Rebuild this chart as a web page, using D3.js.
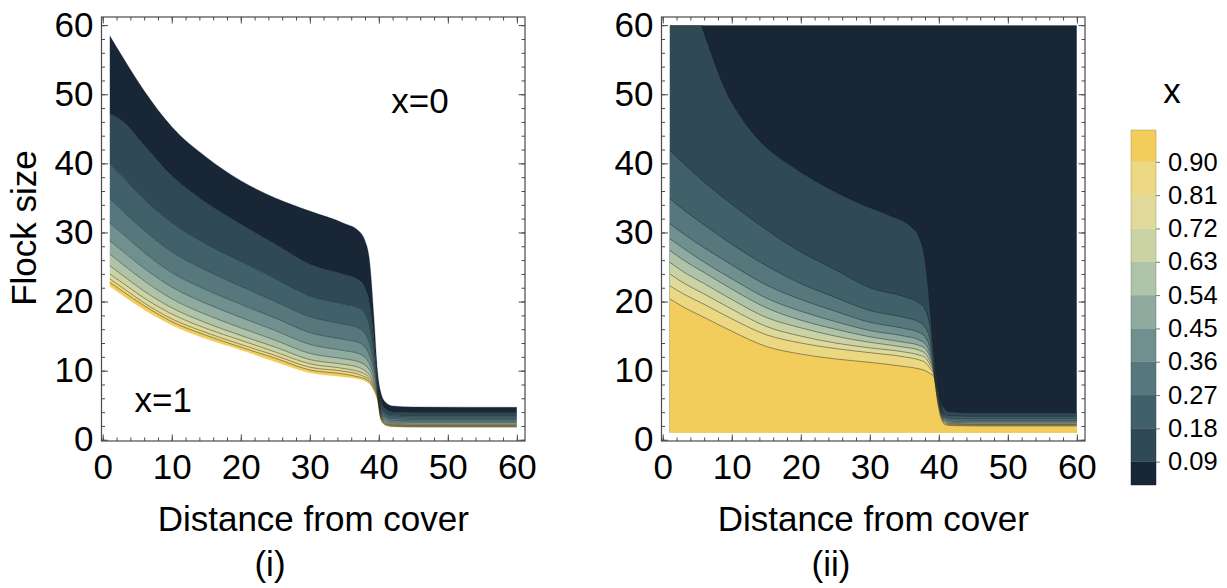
<!DOCTYPE html>
<html>
<head>
<meta charset="utf-8">
<script src="https://cdn.jsdelivr.net/npm/d3@7"></script>
<style>
  body { margin: 0; background: #fff; }
  svg text { font-family: "Liberation Sans", Arial, Helvetica, sans-serif; fill: #000; }
</style>
</head>
<body>
<svg id="chart" width="1227" height="588"></svg>
<script>
// ---- contour levels of x and legend ----
const levels = [0.09, 0.18, 0.27, 0.36, 0.45, 0.54, 0.63, 0.72, 0.81, 0.90];
const levelLabels = ["0.09", "0.18", "0.27", "0.36", "0.45", "0.54", "0.63", "0.72", "0.81", "0.90"];
const legendRange = [0.027, 0.986];
const bandColors = ["#182636", "#2f4a55", "#40616a", "#56787c", "#70908f", "#8faa9f",
                    "#afc3a8", "#cbd3a4", "#e0da9a", "#ecd883", "#f3cd5c"];

// ---- axes ----
const axisTicks = [0, 10, 20, 30, 40, 50, 60];
const minorTicks = d3.range(0, 61, 2);
const domainPad = [-0.18, 61.18];

// ---- panel (i): flock size along each contour, sampled on a distance grid ----
const distance = [1, 3, 6, 10, 15, 20, 25, 30, 35, 37, 38, 38.7, 39.3, 39.8, 40.3, 41, 42, 45, 60];
// upper edge of the mixed region (above it x = 0)
const edgeUpperI = [58.5, 55.2, 50.5, 45.3, 40.9, 37.5, 35.0, 33.1, 31.3, 30.3, 28.8, 25.5, 17.5, 10.0, 6.8, 5.4, 4.9, 4.75, 4.7];
// lower edge of the mixed region (below it x = 1)
const edgeLowerI = [22.2, 20.8, 18.8, 16.6, 14.6, 13.0, 11.3, 9.7, 9.1, 8.8, 8.5, 8.0, 7.0, 5.6, 2.8, 2.05, 1.85, 1.8, 1.8];
const contoursI = [
  [47.2, 46.0, 42.6, 38.2, 34.3, 31.2, 28.3, 25.4, 23.9, 23.2, 22.0, 19.5, 14.5, 8.8, 5.6, 4.4, 4.0, 3.9, 3.9],
  [40.0, 37.9, 34.8, 31.4, 28.3, 25.8, 23.3, 20.8, 19.6, 19.1, 18.2, 16.2, 12.5, 8.2, 5.0, 3.8, 3.5, 3.4, 3.4],
  [34.9, 33.0, 30.3, 27.2, 24.5, 22.2, 20.0, 17.8, 16.7, 16.2, 15.4, 13.8, 11.0, 7.8, 4.6, 3.4, 3.1, 3.0, 3.0],
  [31.4, 29.7, 27.1, 24.2, 21.7, 19.6, 17.6, 15.5, 14.5, 14.1, 13.4, 12.1, 10.0, 7.5, 4.3, 3.1, 2.8, 2.7, 2.7],
  [28.8, 27.2, 24.8, 22.1, 19.7, 17.7, 15.8, 13.8, 12.9, 12.5, 11.9, 10.9, 9.2, 7.2, 4.0, 2.85, 2.55, 2.5, 2.5],
  [26.9, 25.3, 23.0, 20.4, 18.1, 16.2, 14.4, 12.5, 11.7, 11.3, 10.8, 10.0, 8.6, 6.9, 3.8, 2.65, 2.4, 2.3, 2.3],
  [25.2, 23.7, 21.5, 19.1, 16.9, 15.1, 13.4, 11.6, 10.9, 10.5, 10.0, 9.3, 8.2, 6.7, 3.6, 2.5, 2.25, 2.15, 2.15],
  [24.0, 22.6, 20.5, 18.2, 16.1, 14.4, 12.7, 11.0, 10.3, 9.9, 9.5, 8.9, 7.9, 6.5, 3.4, 2.35, 2.15, 2.05, 2.05],
  [23.3, 21.9, 19.8, 17.5, 15.5, 13.8, 12.2, 10.5, 9.9, 9.5, 9.1, 8.6, 7.6, 6.3, 3.2, 2.25, 2.05, 1.97, 1.95],
  [22.8, 21.4, 19.4, 17.1, 15.1, 13.4, 11.8, 10.1, 9.5, 9.1, 8.8, 8.3, 7.3, 6.0, 3.0, 2.15, 1.95, 1.88, 1.87]
];

// ---- panel (ii): contour at x = 0.09 as [distance, flock size] points ----
const contour009II = [[5.6, 60], [7, 56], [9, 50.8], [11, 47.2], [14, 43.3], [19, 39.4], [24, 36.4],
  [29, 34.0], [33, 32.4], [36, 30.8], [37, 29.6], [38, 26.0], [38.6, 20.5], [39.2, 13.5],
  [39.8, 8.6], [40.5, 5.0], [41.5, 4.05], [45, 3.9], [60, 3.9]];
// contours x = 0.18 ... 0.90 on the distance grid
const contoursII = [
  [41.9, 40.0, 37.3, 34.1, 30.4, 27.2, 24.6, 22.0, 20.7, 19.9, 18.9, 16.5, 11.5, 8.0, 5.0, 3.6, 3.45, 3.4, 3.4],
  [34.9, 33.3, 31.1, 28.3, 25.2, 22.6, 20.6, 18.7, 17.7, 17.1, 16.3, 14.6, 10.8, 7.7, 4.7, 3.3, 3.1, 3.05, 3.05],
  [31.3, 29.8, 27.8, 25.3, 22.4, 20.3, 18.6, 17.0, 16.1, 15.6, 14.9, 13.4, 10.4, 7.4, 4.5, 3.1, 2.85, 2.8, 2.8],
  [29.1, 27.7, 25.7, 23.3, 20.5, 18.6, 17.1, 15.8, 15.0, 14.5, 13.9, 12.6, 10.1, 7.1, 4.3, 2.9, 2.65, 2.6, 2.6],
  [27.4, 26.0, 24.2, 21.8, 19.1, 17.3, 16.0, 14.9, 14.1, 13.7, 13.2, 12.0, 9.9, 6.8, 4.1, 2.75, 2.5, 2.45, 2.45],
  [25.7, 24.3, 22.6, 20.3, 17.7, 16.2, 15.0, 14.1, 13.4, 13.0, 12.5, 11.4, 9.7, 6.5, 3.9, 2.6, 2.35, 2.3, 2.3],
  [24.0, 22.7, 21.1, 18.9, 16.4, 15.0, 14.0, 13.3, 12.7, 12.3, 11.9, 10.9, 9.5, 6.2, 3.7, 2.45, 2.25, 2.2, 2.2],
  [22.3, 21.1, 19.6, 17.5, 15.2, 14.0, 13.2, 12.6, 12.0, 11.6, 11.2, 10.4, 9.3, 5.9, 3.5, 2.3, 2.15, 2.1, 2.1],
  [20.4, 19.2, 17.7, 15.7, 13.5, 12.4, 11.7, 11.2, 10.6, 10.3, 10.0, 9.6, 9.1, 5.6, 3.2, 2.15, 2.05, 2.0, 2.0]
];
const dataExtent = [1, 60];

// ---- drawing ----
const svg = d3.select("#chart");
const fontMain = 35;
const frameTop = 17, frameBottom = 441;

function makePanel(left, right, id) {
  const x = d3.scaleLinear().domain(domainPad).range([left, right]);
  const y = d3.scaleLinear().domain(domainPad).range([frameBottom, frameTop]);
  const g = svg.append("g");
  svg.append("defs").append("clipPath").attr("id", id)
    .append("rect")
    .attr("x", x(dataExtent[0])).attr("y", y(dataExtent[1]))
    .attr("width", x(dataExtent[1]) - x(dataExtent[0]))
    .attr("height", y(dataExtent[0]) - y(dataExtent[1]));
  const plot = g.append("g").attr("clip-path", `url(#${id})`);
  return { x, y, g, plot };
}

function drawFrame(p) {
  const { x, y, g } = p;
  const frameColor = "#4a4a4a";
  const styleAxis = sel => {
    sel.select(".domain").remove();
    sel.selectAll(".tick line").attr("stroke", frameColor).attr("stroke-width", 1);
  };
  // minor ticks
  g.append("g").attr("transform", `translate(0,${frameBottom})`)
    .call(d3.axisBottom(x).tickValues(minorTicks).tickSize(-3.5).tickFormat("")).call(styleAxis);
  g.append("g").attr("transform", `translate(0,${frameTop})`)
    .call(d3.axisTop(x).tickValues(minorTicks).tickSize(-3.5).tickFormat("")).call(styleAxis);
  g.append("g").attr("transform", `translate(${x.range()[0]},0)`)
    .call(d3.axisLeft(y).tickValues(minorTicks).tickSize(-3.5).tickFormat("")).call(styleAxis);
  g.append("g").attr("transform", `translate(${x.range()[1]},0)`)
    .call(d3.axisRight(y).tickValues(minorTicks).tickSize(-3.5).tickFormat("")).call(styleAxis);
  // major ticks with labels
  const bx = g.append("g").attr("transform", `translate(0,${frameBottom})`)
    .call(d3.axisBottom(x).tickValues(axisTicks).tickSize(-6.5).tickPadding(13).tickFormat(d3.format("d")));
  bx.call(styleAxis);
  bx.selectAll("text").attr("font-size", fontMain).attr("fill", "#000");
  g.append("g").attr("transform", `translate(0,${frameTop})`)
    .call(d3.axisTop(x).tickValues(axisTicks).tickSize(-6.5).tickFormat("")).call(styleAxis);
  const ly = g.append("g").attr("transform", `translate(${x.range()[0]},0)`)
    .call(d3.axisLeft(y).tickValues(axisTicks).tickSize(-6.5).tickPadding(8).tickFormat(d3.format("d")));
  ly.call(styleAxis);
  ly.selectAll("text").attr("font-size", fontMain).attr("fill", "#000");
  g.append("g").attr("transform", `translate(${x.range()[1]},0)`)
    .call(d3.axisRight(y).tickValues(axisTicks).tickSize(-6.5).tickFormat("")).call(styleAxis);
  g.append("rect")
    .attr("x", x.range()[0]).attr("y", frameTop)
    .attr("width", x.range()[1] - x.range()[0]).attr("height", frameBottom - frameTop)
    .attr("fill", "none").attr("stroke", frameColor).attr("stroke-width", 1.2);
  // axis title
  g.append("text")
    .attr("x", (x.range()[0] + x.range()[1]) / 2).attr("y", 531)
    .attr("text-anchor", "middle").attr("font-size", fontMain)
    .text("Distance from cover");
}

const lineStroke = "rgba(20,25,30,0.55)";

// ---- panel (i) ----
const pI = makePanel(101.5, 525, "clipI");
{
  const { x, y, plot } = pI;
  const curves = [edgeUpperI, ...contoursI, edgeLowerI];
  const band = d3.area()
    .x(i => x(distance[i]))
    .curve(d3.curveMonotoneX);
  for (let k = 0; k < curves.length - 1; k++) {
    const upper = curves[k], lower = curves[k + 1];
    plot.append("path")
      .datum(d3.range(distance.length))
      .attr("d", band.y0(i => y(lower[i])).y1(i => y(upper[i])))
      .attr("fill", bandColors[k])
      .attr("stroke", bandColors[k]).attr("stroke-width", 0.3);
  }
  const line = d3.line().x(i => x(distance[i])).curve(d3.curveMonotoneX);
  contoursI.forEach(c => {
    plot.append("path")
      .datum(d3.range(distance.length))
      .attr("d", line.y(i => y(c[i])))
      .attr("fill", "none").attr("stroke", lineStroke).attr("stroke-width", 0.8);
  });
  pI.g.append("text").attr("x", x(41.8)).attr("y", y(47.3))
    .attr("font-size", fontMain).text("x=0");
  pI.g.append("text").attr("x", x(4.6)).attr("y", y(4.06))
    .attr("font-size", fontMain).text("x=1");
}
drawFrame(pI);

// ---- panel (ii) ----
const pII = makePanel(661.5, 1085, "clipII");
{
  const { x, y, plot } = pII;
  plot.append("rect")
    .attr("x", x(dataExtent[0])).attr("y", y(dataExtent[1]))
    .attr("width", x(dataExtent[1]) - x(dataExtent[0]))
    .attr("height", y(dataExtent[0]) - y(dataExtent[1]))
    .attr("fill", bandColors[0]);
  const pts = [contour009II, ...contoursII.map(c => c.map((v, i) => [distance[i], v]))];
  const line = d3.line().x(d => x(d[0])).y(d => y(d[1])).curve(d3.curveMonotoneX);
  const lo = dataExtent[0], hi = dataExtent[1];
  pts.forEach((c, k) => {
    const below = line(c) +
      `L${x(hi)},${y(c[c.length - 1][1])}L${x(hi)},${y(lo)}L${x(lo)},${y(lo)}L${x(lo)},${y(c[0][1])}Z`;
    plot.append("path").attr("d", below)
      .attr("fill", bandColors[k + 1]);
  });
  pts.forEach(c => {
    plot.append("path").attr("d", line(c))
      .attr("fill", "none").attr("stroke", lineStroke).attr("stroke-width", 0.8);
  });
}
drawFrame(pII);

// y title and panel tags
svg.append("text")
  .attr("transform", `translate(36,228) rotate(-90)`)
  .attr("text-anchor", "middle").attr("font-size", fontMain)
  .text("Flock size");
svg.append("text").attr("x", 270).attr("y", 576).attr("text-anchor", "middle")
  .attr("font-size", fontMain).text("(i)");
svg.append("text").attr("x", 831).attr("y", 576).attr("text-anchor", "middle")
  .attr("font-size", fontMain).text("(ii)");

// ---- colour bar ----
{
  const cbX = 1131, cbW = 25;
  const cy = d3.scaleLinear().domain(legendRange).range([485, 130]);
  const edges = [legendRange[0], ...levels, legendRange[1]];
  const cb = svg.append("g");
  for (let k = 0; k < edges.length - 1; k++) {
    cb.append("rect")
      .attr("x", cbX).attr("width", cbW)
      .attr("y", cy(edges[k + 1])).attr("height", cy(edges[k]) - cy(edges[k + 1]))
      .attr("fill", bandColors[k]).attr("stroke", bandColors[k]).attr("stroke-width", 0.3);
  }
  cb.append("rect")
    .attr("x", cbX).attr("y", cy(legendRange[1])).attr("width", cbW)
    .attr("height", cy(legendRange[0]) - cy(legendRange[1]))
    .attr("fill", "none").attr("stroke", "rgba(0,0,0,0.25)").attr("stroke-width", 0.6);
  const ax = cb.append("g").attr("transform", `translate(${cbX + cbW},0)`)
    .call(d3.axisRight(cy).tickValues(levels).tickSize(4).tickPadding(8)
      .tickFormat((d, i) => levelLabels[i]));
  ax.select(".domain").remove();
  ax.selectAll(".tick line").attr("stroke", "#777");
  ax.selectAll("text").attr("font-size", 25.5).attr("fill", "#000");
  svg.append("text").attr("x", 1172).attr("y", 103).attr("text-anchor", "middle")
    .attr("font-size", fontMain).text("x");
}
</script>
</body>
</html>
